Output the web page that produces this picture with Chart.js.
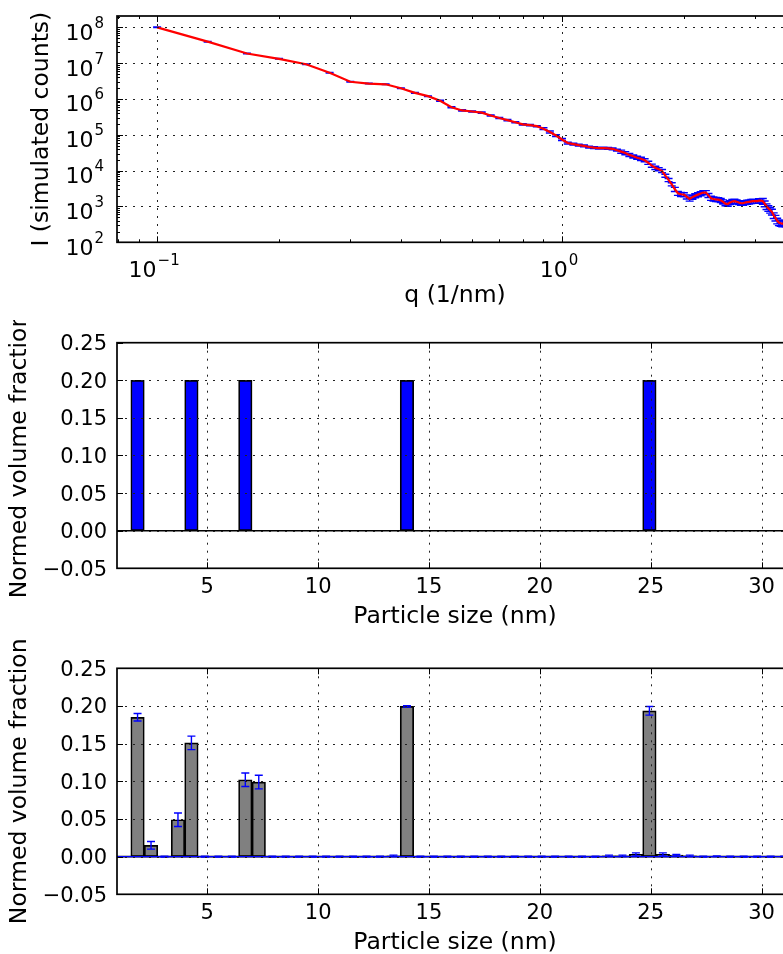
<!DOCTYPE html>
<html>
<head>
<meta charset="utf-8">
<script src="https://cdn.jsdelivr.net/npm/chart.js@4.4.0/dist/chart.umd.min.js"></script>
<style>
  html, body { margin: 0; padding: 0; background: #fff; }
  #page { position: relative; width: 783px; height: 954px; overflow: hidden; background: #fff; }
  .panel { position: absolute; left: 0; }
</style>
</head>
<body>
<div id="page">
  <div class="panel" style="top:0"><canvas id="scatter" width="800" height="320"></canvas></div>
  <div class="panel" style="top:320px"><canvas id="trueDist" width="800" height="320"></canvas></div>
  <div class="panel" style="top:640px"><canvas id="fitDist" width="800" height="314"></canvas></div>
</div>
<script>
// ---- scattering curve (top panel) ----
const q = [
  0.1000, 0.1333, 0.1667, 0.2000, 0.2333, 0.2667, 0.3000, 0.3333, 0.3667, 0.4000,
  0.4333, 0.4667, 0.5000, 0.5333, 0.5667, 0.6000, 0.6333, 0.6667, 0.7000, 0.7333,
  0.7667, 0.8000, 0.8333, 0.8667, 0.9000, 0.9333, 0.9667, 1.0000, 1.0333, 1.0667,
  1.1000, 1.1333, 1.1667, 1.2000, 1.2333, 1.2667, 1.3000, 1.3333, 1.3667, 1.4000,
  1.4333, 1.4667, 1.5000, 1.5333, 1.5667, 1.6000, 1.6333, 1.6667, 1.7000, 1.7333,
  1.7667, 1.8000, 1.8333, 1.8667, 1.9000, 1.9333, 1.9667, 2.0000, 2.0333, 2.0667,
  2.1000, 2.1333, 2.1667, 2.2000, 2.2333, 2.2667, 2.3000, 2.3333, 2.3667, 2.4000,
  2.4333, 2.4667, 2.5000, 2.5333, 2.5667, 2.6000, 2.6333, 2.6667, 2.7000, 2.7333,
  2.7667, 2.8000, 2.8333, 2.8667, 2.9000, 2.9333, 2.9667, 3.0000, 3.0333, 3.0667,
  3.1000, 3.1333, 3.1667, 3.2000, 3.2333, 3.2667, 3.3000, 3.3333, 3.3667, 3.4000,
  3.4333, 3.4667, 3.5000, 3.5333, 3.5667
];
const intensity = [
  1.00e8, 3.98e7, 1.86e7, 1.32e7, 9.33e6, 5.37e6, 3.02e6, 2.69e6, 2.57e6, 2.00e6,
  1.48e6, 1.20e6, 8.91e5, 5.89e5, 4.79e5, 4.47e5, 4.17e5, 3.47e5, 2.95e5, 2.57e5,
  2.24e5, 1.95e5, 1.86e5, 1.74e5, 1.48e5, 1.20e5, 9.55e4, 7.41e4, 5.89e4, 5.50e4,
  5.13e4, 4.90e4, 4.57e4, 4.37e4, 4.27e4, 4.27e4, 4.17e4, 4.07e4, 3.72e4, 3.39e4,
  3.09e4, 2.75e4, 2.51e4, 2.29e4, 2.14e4, 1.95e4, 1.66e4, 1.38e4, 1.20e4, 1.10e4,
  9.77e3, 7.24e3, 5.50e3, 4.17e3, 3.02e3, 2.34e3, 2.19e3, 2.14e3, 1.86e3, 1.62e3,
  1.82e3, 2.00e3, 2.14e3, 2.29e3, 2.45e3, 2.45e3, 2.04e3, 1.70e3, 1.62e3, 1.58e3,
  1.55e3, 1.48e3, 1.35e3, 1.20e3, 1.17e3, 1.29e3, 1.38e3, 1.41e3, 1.35e3, 1.29e3,
  1.23e3, 1.23e3, 1.29e3, 1.32e3, 1.35e3, 1.38e3, 1.41e3, 1.41e3, 1.41e3, 1.45e3,
  1.45e3, 1.41e3, 1.20e3, 1.00e3, 8.91e2, 7.94e2, 7.08e2, 5.62e2, 4.79e2, 3.98e2,
  3.55e2, 3.39e2, 3.31e2, 3.31e2, 3.24e2
];
// relative uncertainty of each intensity point
const intensityRelErr = [
  0.02, 0.02, 0.02, 0.02, 0.02, 0.02, 0.02, 0.02, 0.02, 0.02,
  0.02, 0.02, 0.04, 0.04, 0.04, 0.04, 0.04, 0.04, 0.04, 0.04,
  0.04, 0.04, 0.04, 0.04, 0.06, 0.06, 0.06, 0.06, 0.06, 0.06,
  0.06, 0.06, 0.06, 0.06, 0.06, 0.06, 0.06, 0.06, 0.06, 0.10,
  0.10, 0.10, 0.10, 0.10, 0.10, 0.10, 0.10, 0.10, 0.10, 0.10,
  0.10, 0.10, 0.10, 0.10, 0.13, 0.13, 0.13, 0.13, 0.13, 0.13,
  0.13, 0.13, 0.13, 0.13, 0.13, 0.13, 0.13, 0.13, 0.13, 0.13,
  0.13, 0.13, 0.13, 0.13, 0.13, 0.13, 0.13, 0.13, 0.13, 0.13,
  0.13, 0.13, 0.13, 0.13, 0.13, 0.13, 0.13, 0.13, 0.13, 0.13,
  0.13, 0.18, 0.18, 0.18, 0.18, 0.18, 0.18, 0.18, 0.18, 0.18,
  0.18, 0.18, 0.18, 0.18, 0.18
];
const qTicks = [0.1, 1];
const qTickLabels = ['10^\u22121', '10^0'];
const qMinorTicks = [0.08, 0.09, 0.2, 0.3, 0.4, 0.5, 0.6, 0.7, 0.8, 0.9, 2, 3];
const intensityTicks = [1e2, 1e3, 1e4, 1e5, 1e6, 1e7, 1e8];
const intensityTickLabels = ['10^2', '10^3', '10^4', '10^5', '10^6', '10^7', '10^8'];
const intensityMinorTicks = [
  2e2, 3e2, 4e2, 5e2, 6e2, 7e2, 8e2, 9e2,
  2e3, 3e3, 4e3, 5e3, 6e3, 7e3, 8e3, 9e3,
  2e4, 3e4, 4e4, 5e4, 6e4, 7e4, 8e4, 9e4,
  2e5, 3e5, 4e5, 5e5, 6e5, 7e5, 8e5, 9e5,
  2e6, 3e6, 4e6, 5e6, 6e6, 7e6, 8e6, 9e6,
  2e7, 3e7, 4e7, 5e7, 6e7, 7e7, 8e7, 9e7,
  2e8
];

// ---- size distributions (middle and bottom panels) ----
const sizeBins = [
  1.854, 2.462, 3.069, 3.677, 4.284, 4.892, 5.500, 6.107, 6.715, 7.322,
  7.930, 8.538, 9.145, 9.753, 10.360, 10.968, 11.576, 12.183, 12.791, 13.398,
  14.006, 14.614, 15.221, 15.829, 16.436, 17.044, 17.652, 18.259, 18.867, 19.474,
  20.082, 20.690, 21.297, 21.905, 22.512, 23.120, 23.728, 24.335, 24.943, 25.550,
  26.158, 26.766, 27.373, 27.981, 28.588, 29.196, 29.804, 30.411, 31.019, 31.626
];
const trueFraction = [
  0.2, 0, 0, 0, 0.2, 0, 0, 0, 0.2, 0,
  0, 0, 0, 0, 0, 0, 0, 0, 0, 0,
  0.2, 0, 0, 0, 0, 0, 0, 0, 0, 0,
  0, 0, 0, 0, 0, 0, 0, 0, 0.2, 0,
  0, 0, 0, 0, 0, 0, 0, 0, 0, 0
];
const fitFraction = [
  0.185, 0.015, 0, 0.049, 0.151, 0, 0, 0, 0.102, 0.099,
  0, 0, 0, 0, 0, 0, 0, 0, 0, 0.001,
  0.1995, 0, 0, 0, 0, 0, 0, 0, 0, 0,
  0, 0, 0, 0, 0, 0.001, 0.001, 0.003, 0.1935, 0.003,
  0.002, 0.001, 0, 0.0005, 0, 0, 0, 0, 0, 0
];
const fitError = [
  0.005, 0.005, 0.0005, 0.009, 0.009, 0.0005, 0.0005, 0.0005, 0.009, 0.009,
  0.0005, 0.0005, 0.0005, 0.0005, 0.0005, 0.0005, 0.0005, 0.0005, 0.0005, 0.001,
  0.001, 0.0005, 0.0005, 0.0005, 0.0005, 0.0005, 0.0005, 0.0005, 0.0005, 0.0005,
  0.0005, 0.0005, 0.0005, 0.0005, 0.0005, 0.001, 0.001, 0.002, 0.0057, 0.002,
  0.001, 0.001, 0.0005, 0.0005, 0.0005, 0.0005, 0.0005, 0.0005, 0.0005, 0.0005
];
const sizeTicks = [5, 10, 15, 20, 25, 30];
const sizeTickLabels = ['5', '10', '15', '20', '25', '30'];
const fractionTicks = [-0.05, 0, 0.05, 0.10, 0.15, 0.20, 0.25];
const fractionTickLabels = ['\u22120.05', '0.00', '0.05', '0.10', '0.15', '0.20', '0.25'];

const FONT = '"DejaVu Sans", "Bitstream Vera Sans", sans-serif';

// "10^8" style label: base text plus a raised, smaller exponent
function powText(ctx, label, x, y, align, size) {
  const parts = label.split('^');
  const supSize = Math.round(size * 0.68);
  ctx.font = size + 'px ' + FONT;
  const wb = ctx.measureText(parts[0]).width;
  let ws = 0;
  if (parts.length > 1) {
    ctx.font = supSize + 'px ' + FONT;
    ws = ctx.measureText(parts[1]).width + 1;
  }
  const w = wb + ws;
  const left = align === 'right' ? x - w : (align === 'center' ? x - w / 2 : x);
  ctx.textAlign = 'left';
  ctx.textBaseline = 'alphabetic';
  ctx.font = size + 'px ' + FONT;
  ctx.fillText(parts[0], left, y);
  if (parts.length > 1) {
    ctx.font = supSize + 'px ' + FONT;
    ctx.fillText(parts[1], left + wb + 1, y - size * 0.55);
  }
}

// matplotlib-like frame: dotted grid on top, inward ticks on every side, labels, titles
function mplAxes(cfg) {
  return {
    id: 'mplAxes',
    afterDatasetsDraw(chart) {
      const ctx = chart.ctx, a = chart.chartArea, xs = chart.scales.x, ys = chart.scales.y;
      ctx.save();
      ctx.strokeStyle = '#222';
      ctx.lineWidth = 1;
      ctx.setLineDash([2, 6]);
      ctx.beginPath();
      cfg.xTicks.forEach(v => {
        const px = Math.round(xs.getPixelForValue(v)) + 0.5;
        if (px > a.left + 1 && px < a.right - 1) { ctx.moveTo(px, a.top); ctx.lineTo(px, a.bottom); }
      });
      cfg.yTicks.forEach(v => {
        const py = Math.round(ys.getPixelForValue(v)) + 0.5;
        if (py > a.top + 1 && py < a.bottom - 1) { ctx.moveTo(a.left, py); ctx.lineTo(a.right, py); }
      });
      ctx.stroke();
      ctx.setLineDash([]);

      ctx.strokeStyle = '#000';
      ctx.lineWidth = 1;
      ctx.beginPath();
      const xt = (list, len) => list.forEach(v => {
        const px = Math.round(xs.getPixelForValue(v)) + 0.5;
        ctx.moveTo(px, a.bottom); ctx.lineTo(px, a.bottom - len);
        ctx.moveTo(px, a.top); ctx.lineTo(px, a.top + len);
      });
      const yt = (list, len) => list.forEach(v => {
        const py = Math.round(ys.getPixelForValue(v)) + 0.5;
        ctx.moveTo(a.left, py); ctx.lineTo(a.left + len, py);
        ctx.moveTo(a.right, py); ctx.lineTo(a.right - len, py);
      });
      xt(cfg.xTicks, 6); yt(cfg.yTicks, 6);
      xt(cfg.xMinor || [], 3); yt(cfg.yMinor || [], 3);
      ctx.stroke();
      ctx.lineWidth = 1.7;
      ctx.strokeRect(a.left, a.top, a.right - a.left, a.bottom - a.top);

      ctx.fillStyle = '#000';
      cfg.xTicks.forEach((v, i) => powText(ctx, cfg.xLabels[i], xs.getPixelForValue(v) + cfg.xLabelShift,
        a.bottom + cfg.xLabelDrop, 'center', cfg.tickSize));
      cfg.yTicks.forEach((v, i) => powText(ctx, cfg.yLabels[i], a.left - cfg.yLabelGap,
        ys.getPixelForValue(v) + cfg.yLabelDrop, 'right', cfg.tickSize));

      ctx.font = '23.5px ' + FONT;
      ctx.textAlign = 'center';
      ctx.textBaseline = 'alphabetic';
      ctx.fillText(cfg.xTitle, (a.left + a.right) / 2, a.bottom + cfg.xTitleDrop);
      ctx.translate(cfg.yTitleX, (a.top + a.bottom) / 2);
      ctx.rotate(-Math.PI / 2);
      ctx.textBaseline = 'middle';
      ctx.fillText(cfg.yTitle, 0, 0);
      ctx.restore();
    }
  };
}

const hiddenAxis = (type, min, max) => ({ type: type, min: min, max: max, display: false, offset: false });

// error bars of the measured curve, drawn under the red fit line
const curveErrors = {
  id: 'curveErrors',
  beforeDatasetsDraw(chart) {
    const ctx = chart.ctx, a = chart.chartArea, xs = chart.scales.x, ys = chart.scales.y;
    ctx.save();
    ctx.beginPath();
    ctx.rect(a.left, a.top, a.right - a.left, a.bottom - a.top);
    ctx.clip();
    ctx.strokeStyle = '#0000ff';
    ctx.lineWidth = 1.4;
    ctx.beginPath();
    q.forEach((v, i) => {
      const px = xs.getPixelForValue(v);
      const hi = ys.getPixelForValue(intensity[i] * (1 + intensityRelErr[i]));
      const lo = ys.getPixelForValue(intensity[i] * (1 - intensityRelErr[i]));
      ctx.moveTo(px, hi); ctx.lineTo(px, lo);
      ctx.moveTo(px - 4, hi); ctx.lineTo(px + 4, hi);
      ctx.moveTo(px - 4, lo); ctx.lineTo(px + 4, lo);
    });
    ctx.stroke();
    ctx.restore();
  }
};

new Chart(document.getElementById('scatter'), {
  type: 'line',
  data: {
    datasets: [{
      data: q.map((v, i) => ({ x: v, y: intensity[i] })),
      borderColor: '#ff0000',
      borderWidth: 2.2,
      pointRadius: 0,
      tension: 0,
      fill: false
    }]
  },
  options: {
    responsive: false,
    animation: false,
    devicePixelRatio: 1,
    layout: { padding: { left: 117, right: 7, top: 16, bottom: 77.7 } },
    plugins: { legend: { display: false }, tooltip: { enabled: false } },
    scales: {
      x: hiddenAxis('logarithmic', 0.0796, 3.72),
      y: hiddenAxis('logarithmic', 100, 2.07e8)
    }
  },
  plugins: [curveErrors, mplAxes({
    xTicks: qTicks, xLabels: qTickLabels, xMinor: qMinorTicks,
    yTicks: intensityTicks, yLabels: intensityTickLabels, yMinor: intensityMinorTicks,
    tickSize: 22, xLabelShift: -3, xLabelDrop: 34.4, yLabelGap: 13, yLabelDrop: 12.5,
    xTitle: 'q (1/nm)', xTitleDrop: 60, yTitle: 'I (simulated counts)', yTitleX: 42
  })]
});

// baseline at zero (black) and optional blue error bars for the fitted bins
function barExtras(errors, values) {
  return {
    id: 'barExtras',
    afterDatasetsDraw(chart) {
      const ctx = chart.ctx, a = chart.chartArea, xs = chart.scales.x, ys = chart.scales.y;
      const y0 = ys.getPixelForValue(0);
      ctx.save();
      ctx.strokeStyle = '#000';
      ctx.lineWidth = 1.6;
      ctx.beginPath(); ctx.moveTo(a.left, y0); ctx.lineTo(a.right, y0); ctx.stroke();
      if (errors) {
        ctx.strokeStyle = '#0000ff';
        ctx.lineWidth = 1.4;
        ctx.beginPath(); ctx.moveTo(a.left, y0); ctx.lineTo(a.right, y0); ctx.stroke();
        ctx.beginPath();
        sizeBins.forEach((v, i) => {
          const px = xs.getPixelForValue(v);
          if (px > a.right) return;
          const hi = ys.getPixelForValue(values[i] + errors[i]);
          const lo = ys.getPixelForValue(values[i] - errors[i]);
          ctx.moveTo(px, hi); ctx.lineTo(px, lo);
          ctx.moveTo(px - 4, hi); ctx.lineTo(px + 4, hi);
          ctx.moveTo(px - 4, lo); ctx.lineTo(px + 4, lo);
        });
        ctx.stroke();
      }
      ctx.restore();
    }
  };
}

function sizeChart(id, values, fill, errors, padTop, padBottom) {
  return new Chart(document.getElementById(id), {
    type: 'bar',
    data: {
      datasets: [{
        data: sizeBins.map((v, i) => ({ x: v, y: values[i] })),
        backgroundColor: fill,
        borderColor: '#000',
        borderWidth: 1.7,
        borderSkipped: false,
        categoryPercentage: 1,
        barPercentage: 1
      }]
    },
    options: {
      responsive: false,
      animation: false,
      devicePixelRatio: 1,
      layout: { padding: { left: 117, right: 7, top: padTop, bottom: padBottom } },
      plugins: { legend: { display: false }, tooltip: { enabled: false } },
      scales: {
        x: hiddenAxis('linear', 0.927, 31.42),
        y: hiddenAxis('linear', -0.05, 0.25)
      }
    },
    plugins: [barExtras(errors, values), mplAxes({
      xTicks: sizeTicks, xLabels: sizeTickLabels,
      yTicks: fractionTicks, yLabels: fractionTickLabels,
      tickSize: 21, xLabelShift: 0, xLabelDrop: 25, yLabelGap: 10, yLabelDrop: 7.5,
      xTitle: 'Particle size (nm)', xTitleDrop: 55, yTitle: 'Normed volume fraction', yTitleX: 20
    })]
  });
}

sizeChart('trueDist', trueFraction, '#0000ff', null, 22.7, 71.7);
sizeChart('fitDist', fitFraction, '#808080', fitError, 28.3, 59.7);
</script>
</body>
</html>
